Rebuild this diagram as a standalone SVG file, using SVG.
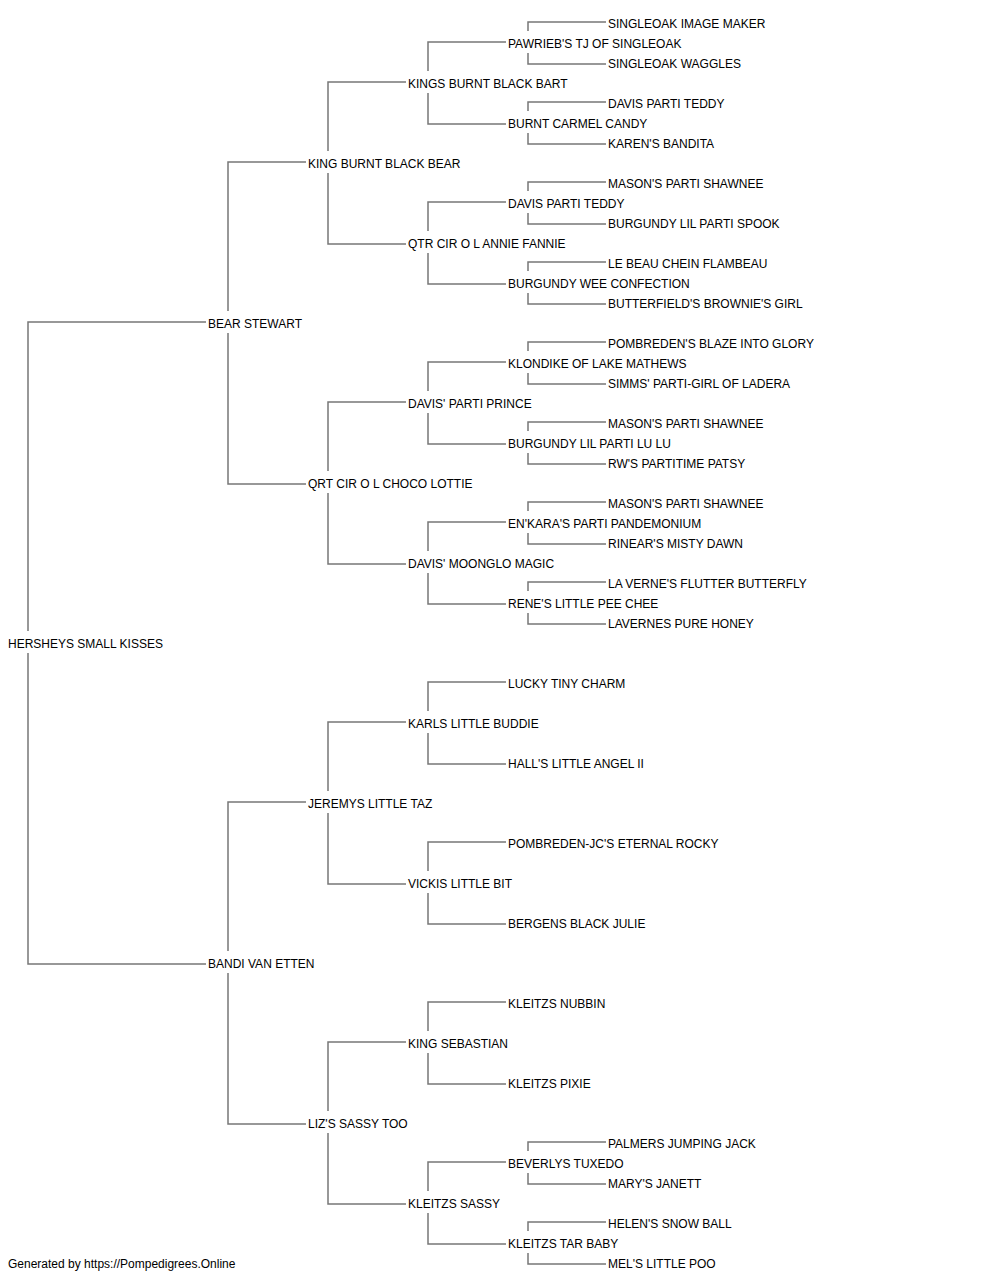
<svg xmlns="http://www.w3.org/2000/svg" width="1000" height="1280" viewBox="0 0 1000 1280">
<style>
.c path{fill:none;stroke:#777;stroke-width:1.5}
text{font-family:"Liberation Sans",Arial,sans-serif;font-size:12px;fill:#000}
</style>
<rect width="1000" height="1280" fill="#fff"/>
<g class="c" id="connectors">
<path d="M28,631V322H206M28,653V964H206"/>
<path d="M228,311V162H306M228,333V484H306M228,951V802H306M228,973V1124H306"/>
<path d="M328,151V82H406M328,173V244H406M328,471V402H406M328,493V564H406M328,791V722H406M328,813V884H406M328,1111V1042H406M328,1133V1204H406"/>
<path d="M428,71V42H506M428,93V124H506M428,231V202H506M428,253V284H506M428,391V362H506M428,413V444H506M428,551V522H506M428,573V604H506M428,711V682H506M428,733V764H506M428,871V842H506M428,893V924H506M428,1031V1002H506M428,1053V1084H506M428,1191V1162H506M428,1213V1244H506"/>
<path d="M528,31V22H606M528,53V64H606M528,111V102H606M528,133V144H606M528,191V182H606M528,213V224H606M528,271V262H606M528,293V304H606M528,351V342H606M528,373V384H606M528,431V422H606M528,453V464H606M528,511V502H606M528,533V544H606M528,591V582H606M528,613V624H606M528,1151V1142H606M528,1173V1184H606M528,1231V1222H606M528,1253V1264H606"/>
</g>
<g id="n-root"><text x="8" y="648">HERSHEYS SMALL KISSES</text></g>
<g id="n-s"><text x="208" y="328">BEAR STEWART</text></g>
<g id="n-d"><text x="208" y="968">BANDI VAN ETTEN</text></g>
<g id="n-ss"><text x="308" y="168">KING BURNT BLACK BEAR</text></g>
<g id="n-sd"><text x="308" y="488">QRT CIR O L CHOCO LOTTIE</text></g>
<g id="n-ds"><text x="308" y="808">JEREMYS LITTLE TAZ</text></g>
<g id="n-dd"><text x="308" y="1128">LIZ'S SASSY TOO</text></g>
<g id="n-sss"><text x="408" y="88">KINGS BURNT BLACK BART</text></g>
<g id="n-ssd"><text x="408" y="248">QTR CIR O L ANNIE FANNIE</text></g>
<g id="n-sds"><text x="408" y="408">DAVIS' PARTI PRINCE</text></g>
<g id="n-sdd"><text x="408" y="568">DAVIS' MOONGLO MAGIC</text></g>
<g id="n-dss"><text x="408" y="728">KARLS LITTLE BUDDIE</text></g>
<g id="n-dsd"><text x="408" y="888">VICKIS LITTLE BIT</text></g>
<g id="n-dds"><text x="408" y="1048">KING SEBASTIAN</text></g>
<g id="n-ddd"><text x="408" y="1208">KLEITZS SASSY</text></g>
<g id="n-g4-1"><text x="508" y="48">PAWRIEB'S TJ OF SINGLEOAK</text></g>
<g id="n-g4-2"><text x="508" y="128">BURNT CARMEL CANDY</text></g>
<g id="n-g4-3"><text x="508" y="208">DAVIS PARTI TEDDY</text></g>
<g id="n-g4-4"><text x="508" y="288">BURGUNDY WEE CONFECTION</text></g>
<g id="n-g4-5"><text x="508" y="368">KLONDIKE OF LAKE MATHEWS</text></g>
<g id="n-g4-6"><text x="508" y="448">BURGUNDY LIL PARTI LU LU</text></g>
<g id="n-g4-7"><text x="508" y="528">EN'KARA'S PARTI PANDEMONIUM</text></g>
<g id="n-g4-8"><text x="508" y="608">RENE'S LITTLE PEE CHEE</text></g>
<g id="n-g4-9"><text x="508" y="688">LUCKY TINY CHARM</text></g>
<g id="n-g4-10"><text x="508" y="768">HALL'S LITTLE ANGEL II</text></g>
<g id="n-g4-11"><text x="508" y="848">POMBREDEN-JC'S ETERNAL ROCKY</text></g>
<g id="n-g4-12"><text x="508" y="928">BERGENS BLACK JULIE</text></g>
<g id="n-g4-13"><text x="508" y="1008">KLEITZS NUBBIN</text></g>
<g id="n-g4-14"><text x="508" y="1088">KLEITZS PIXIE</text></g>
<g id="n-g4-15"><text x="508" y="1168">BEVERLYS TUXEDO</text></g>
<g id="n-g4-16"><text x="508" y="1248">KLEITZS TAR BABY</text></g>
<g id="n-g5-1"><text x="608" y="28">SINGLEOAK IMAGE MAKER</text></g>
<g id="n-g5-2"><text x="608" y="68">SINGLEOAK WAGGLES</text></g>
<g id="n-g5-3"><text x="608" y="108">DAVIS PARTI TEDDY</text></g>
<g id="n-g5-4"><text x="608" y="148">KAREN'S BANDITA</text></g>
<g id="n-g5-5"><text x="608" y="188">MASON'S PARTI SHAWNEE</text></g>
<g id="n-g5-6"><text x="608" y="228">BURGUNDY LIL PARTI SPOOK</text></g>
<g id="n-g5-7"><text x="608" y="268">LE BEAU CHEIN FLAMBEAU</text></g>
<g id="n-g5-8"><text x="608" y="308">BUTTERFIELD'S BROWNIE'S GIRL</text></g>
<g id="n-g5-9"><text x="608" y="348">POMBREDEN'S BLAZE INTO GLORY</text></g>
<g id="n-g5-10"><text x="608" y="388">SIMMS' PARTI-GIRL OF LADERA</text></g>
<g id="n-g5-11"><text x="608" y="428">MASON'S PARTI SHAWNEE</text></g>
<g id="n-g5-12"><text x="608" y="468">RW'S PARTITIME PATSY</text></g>
<g id="n-g5-13"><text x="608" y="508">MASON'S PARTI SHAWNEE</text></g>
<g id="n-g5-14"><text x="608" y="548">RINEAR'S MISTY DAWN</text></g>
<g id="n-g5-15"><text x="608" y="588">LA VERNE'S FLUTTER BUTTERFLY</text></g>
<g id="n-g5-16"><text x="608" y="628">LAVERNES PURE HONEY</text></g>
<g id="n-g5-29"><text x="608" y="1148">PALMERS JUMPING JACK</text></g>
<g id="n-g5-30"><text x="608" y="1188">MARY'S JANETT</text></g>
<g id="n-g5-31"><text x="608" y="1228">HELEN'S SNOW BALL</text></g>
<g id="n-g5-32"><text x="608" y="1268">MEL'S LITTLE POO</text></g>
<g id="footer"><text x="8" y="1268">Generated by https://Pompedigrees.Online</text></g>
</svg>
